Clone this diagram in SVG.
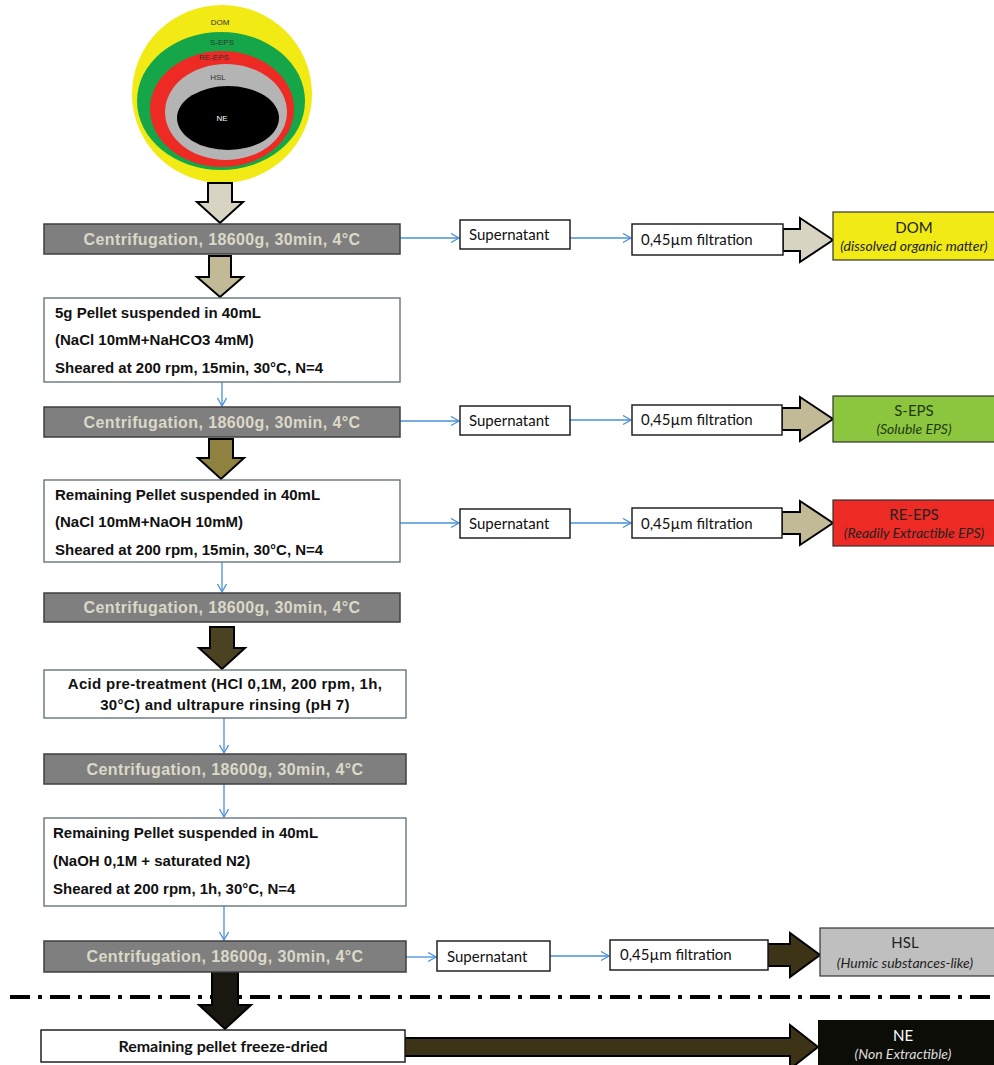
<svg xmlns="http://www.w3.org/2000/svg" width="994" height="1065" viewBox="0 0 994 1065">
<defs>
<marker id="blue" markerWidth="12" markerHeight="12" refX="9" refY="5" orient="auto" markerUnits="userSpaceOnUse">
<path d="M1,0.5 L9,5 L1,9.5" fill="none" stroke="#4a90d9" stroke-width="1.3"/>
</marker>
<style>
.cent{fill:#7f7f7f;stroke:#3f3f3f;stroke-width:1.5}
.ct{font-family:"Liberation Sans",Arial,sans-serif;font-weight:bold;font-size:16px;letter-spacing:0.4px;fill:#dcd8c8;text-anchor:middle}
.wbox{fill:#fff;stroke:#5a6a70;stroke-width:1.3}
.bt{font-family:"Liberation Sans",Arial,sans-serif;font-weight:bold;font-size:15px;fill:#111}
.sbox{fill:#fff;stroke:#222;stroke-width:1.5}
.st{font-family:Lato,"Open Sans",sans-serif;font-size:15px;fill:#111}
.rt{font-family:Lato,"Open Sans",sans-serif;font-size:15px;text-anchor:middle;fill:#222}
.ri{font-family:Lato,"Open Sans",sans-serif;font-size:14px;font-style:italic;text-anchor:middle;fill:#222}
.bl{stroke:#4a90d9;stroke-width:1.3;fill:none;marker-end:url(#blue)}
.big{stroke:#000;stroke-width:2;stroke-linejoin:miter}
.et{font-family:"Liberation Sans",Arial,sans-serif;font-size:8px;text-anchor:middle;fill:#333}
</style>
</defs>
<rect width="994" height="1065" fill="#fff"/>

<g id="layers">
<ellipse cx="222" cy="94" rx="90" ry="89" fill="#f1ea14"/>
<ellipse cx="221" cy="101" rx="84" ry="69" fill="#16a64a"/>
<ellipse cx="222" cy="109" rx="72" ry="58" fill="#ee2a24"/>
<ellipse cx="226" cy="112" rx="61" ry="48" fill="#b4b4b4"/>
<ellipse cx="228" cy="118" rx="51" ry="32" fill="#000"/>
<text class="et" x="220" y="25">DOM</text>
<text class="et" x="222" y="45">S-EPS</text>
<text class="et" x="214" y="60">RE-EPS</text>
<text class="et" x="218" y="80">HSL</text>
<text class="et" x="222" y="121" style="fill:#fff">NE</text>
</g>

<g id="connectors">
<line class="bl" x1="400" y1="238" x2="459" y2="238"/>
<line class="bl" x1="570" y1="238" x2="631" y2="238"/>
<line class="bl" x1="400" y1="421" x2="459" y2="421"/>
<line class="bl" x1="570" y1="420" x2="631" y2="420"/>
<line class="bl" x1="400" y1="523" x2="459" y2="523"/>
<line class="bl" x1="570" y1="523" x2="631" y2="523"/>
<line class="bl" x1="406" y1="957" x2="436" y2="957"/>
<line class="bl" x1="550" y1="956" x2="609" y2="956"/>
<line class="bl" x1="222" y1="382" x2="222" y2="406"/>
<line class="bl" x1="222" y1="562" x2="222" y2="592"/>
<line class="bl" x1="224" y1="718" x2="224" y2="753"/>
<line class="bl" x1="224" y1="784" x2="224" y2="817"/>
<line class="bl" x1="224" y1="906" x2="224" y2="940"/>
<line x1="10" y1="997" x2="994" y2="997" stroke="#000" stroke-width="4" stroke-dasharray="20 8 4 8"/>
<path class="big" fill="#d8d4c4" d="M208,183 V202 H197 L220,223 L243,202 H232 V183 Z"/>
<path class="big" fill="#c2ba96" d="M209,256 V277 H197 L220,297 L243,277 H231 V256 Z"/>
<path class="big" fill="#8f8240" d="M209,439 V458 H198 L221,479 L244,458 H233 V439 Z"/>
<path class="big" fill="#4a4220" d="M210,627 V648 H199 L222,669 L245,648 H234 V627 Z"/>
<path class="big" fill="#1a1710" d="M212,972 V1005 H199 L225,1029 L251,1005 H238 V972 Z"/>
<path class="big" fill="#d8d4c4" d="M783,229 H800 V218 L833,240 L800,262 V251 H783 Z"/>
<path class="big" fill="#c2ba96" d="M782,408 H800 V397 L833,419 L800,441 V430 H782 Z"/>
<path class="big" fill="#c2ba96" d="M782,512 H800 V501 L833,523 L800,545 V534 H782 Z"/>
<path class="big" fill="#3d3418" d="M768,944 H790 V933 L820,955 L790,977 V966 H768 Z"/>
<path class="big" fill="#3d3418" d="M405,1038 H790 V1025 L818,1047 L790,1069 V1056 H405 Z"/>
</g>

<g id="centrifugation1"><rect class="cent" x="44" y="224" width="356" height="30"/><text class="ct" x="222" y="245">Centrifugation, 18600g, 30min, 4°C</text></g>
<g id="step1"><rect class="wbox" x="44" y="298" width="356" height="84"/>
<text class="bt" x="55" y="318">5g Pellet suspended in 40mL</text>
<text class="bt" x="55" y="345">(NaCl 10mM+NaHCO3 4mM)</text>
<text class="bt" x="55" y="373">Sheared at 200 rpm, 15min, 30°C, N=4</text></g>
<g id="centrifugation2"><rect class="cent" x="44" y="407" width="356" height="30"/><text class="ct" x="222" y="428">Centrifugation, 18600g, 30min, 4°C</text></g>
<g id="step2"><rect class="wbox" x="44" y="480" width="356" height="82"/>
<text class="bt" x="55" y="500">Remaining Pellet suspended in 40mL</text>
<text class="bt" x="55" y="527">(NaCl 10mM+NaOH 10mM)</text>
<text class="bt" x="55" y="555">Sheared at 200 rpm, 15min, 30°C, N=4</text></g>
<g id="centrifugation3"><rect class="cent" x="44" y="593" width="356" height="29"/><text class="ct" x="222" y="613">Centrifugation, 18600g, 30min, 4°C</text></g>
<g id="step3"><rect class="wbox" x="44" y="670" width="362" height="48"/>
<text class="bt" x="225" y="689" text-anchor="middle" letter-spacing="0.3">Acid pre-treatment  (HCl 0,1M, 200 rpm, 1h,</text>
<text class="bt" x="225" y="710" text-anchor="middle" letter-spacing="0.3">30°C) and ultrapure rinsing (pH 7)</text></g>
<g id="centrifugation4"><rect class="cent" x="44" y="754" width="362" height="30"/><text class="ct" x="225" y="775">Centrifugation, 18600g, 30min, 4°C</text></g>
<g id="step4"><rect class="wbox" x="44" y="818" width="362" height="88"/>
<text class="bt" x="53" y="838">Remaining Pellet suspended in 40mL</text>
<text class="bt" x="53" y="866">(NaOH 0,1M + saturated N2)</text>
<text class="bt" x="53" y="894">Sheared at 200 rpm, 1h, 30°C, N=4</text></g>
<g id="centrifugation5"><rect class="cent" x="44" y="941" width="362" height="31"/><text class="ct" x="225" y="962">Centrifugation, 18600g, 30min, 4°C</text></g>
<g id="freezedried"><rect class="sbox" x="41" y="1030" width="364" height="32"/>
<text x="223" y="1052" text-anchor="middle" style="font-family:Lato,'Open Sans',sans-serif;font-weight:bold;font-size:16px;fill:#111">Remaining pellet freeze-dried</text></g>

<g id="sup1"><rect class="sbox" x="460" y="220" width="110" height="29"/><text class="st" x="469" y="240">Supernatant</text></g>
<g id="filt1"><rect class="sbox" x="632" y="224" width="151" height="31"/><text class="st" x="641" y="245">0,45µm filtration</text></g>
<g id="DOM"><rect x="833" y="212" width="170" height="48" fill="#f1ea14" stroke="#333" stroke-width="1.2"/>
<text class="rt" x="914" y="233">DOM</text><text class="ri" x="914" y="251">(dissolved organic matter)</text></g>

<g id="sup2"><rect class="sbox" x="460" y="406" width="110" height="29"/><text class="st" x="469" y="426">Supernatant</text></g>
<g id="filt2"><rect class="sbox" x="632" y="405" width="150" height="30"/><text class="st" x="641" y="425">0,45µm filtration</text></g>
<g id="SEPS"><rect x="833" y="396" width="170" height="46" fill="#8cc63f" stroke="#333" stroke-width="1.2"/>
<text class="rt" x="914" y="416" style="fill:#1e3a12">S-EPS</text><text class="ri" x="914" y="434" style="fill:#1e3a12">(Soluble EPS)</text></g>

<g id="sup3"><rect class="sbox" x="460" y="509" width="110" height="29"/><text class="st" x="469" y="529">Supernatant</text></g>
<g id="filt3"><rect class="sbox" x="632" y="508" width="150" height="30"/><text class="st" x="641" y="529">0,45µm filtration</text></g>
<g id="REEPS"><rect x="833" y="500" width="170" height="46" fill="#ee2a24" stroke="#333" stroke-width="1.2"/>
<text class="rt" x="914" y="520">RE-EPS</text><text class="ri" x="914" y="538">(Readily Extractible EPS)</text></g>

<g id="sup4"><rect class="sbox" x="437" y="941" width="113" height="30"/><text class="st" x="447" y="962">Supernatant</text></g>
<g id="filt4"><rect class="sbox" x="610" y="940" width="158" height="30"/><text class="st" x="620" y="960">0,45µm filtration</text></g>
<g id="HSL"><rect x="820" y="928" width="180" height="48" fill="#bfbfbf" stroke="#333" stroke-width="1.2"/>
<text class="rt" x="905" y="948">HSL</text><text class="ri" x="905" y="968">(Humic substances-like)</text></g>

<g id="NE"><rect x="818" y="1020" width="180" height="50" fill="#0d0d08"/>
<text class="rt" x="903" y="1041" style="fill:#fff">NE</text><text class="ri" x="903" y="1059" style="fill:#ddd">(Non Extractible)</text></g>
</svg>
